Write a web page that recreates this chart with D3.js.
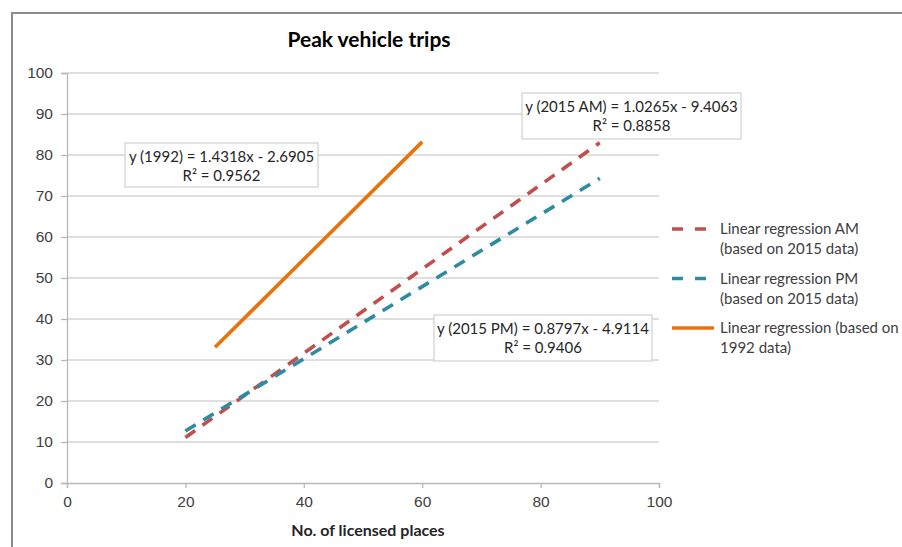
<!DOCTYPE html>
<html>
<head>
<meta charset="utf-8">
<script src="https://cdn.jsdelivr.net/npm/d3@7"></script>
<style>
  body { margin: 0; background: #fff; }
  svg { font-family: Lato, "Open Sans", sans-serif; }
</style>
</head>
<body>
<svg id="chart" width="902" height="547"></svg>
<script>
// regression line end points
const places = [20, 90];
const amTrips = [11.1, 83.0];
const pmTrips = [12.7, 74.3];
const places1992 = [25, 60];
const trips1992 = [33.1, 83.2];

const xTicks = [0, 20, 40, 60, 80, 100];
const yTicks = [0, 10, 20, 30, 40, 50, 60, 70, 80, 90, 100];

const seriesNames = ["Linear regression AM", "Linear regression PM", "Linear regression (based on"];
const seriesSub = ["(based on 2015 data)", "(based on 2015 data)", "1992 data)"];
const colors = ["#C0504D", "#2F8BA2", "#E8720C"];

const eqLabels = [
  ["y (1992) = 1.4318x - 2.6905", "R² = 0.9562"],
  ["y (2015 AM) = 1.0265x - 9.4063", "R² = 0.8858"],
  ["y (2015 PM) = 0.8797x - 4.9114", "R² = 0.9406"]
];

var svg = d3.select("#chart");

// outer chart border
svg.append("rect")
  .attr("x", 12).attr("y", 13)
  .attr("width", 920).attr("height", 560)
  .attr("fill", "none").attr("stroke", "#8c8c8c").attr("stroke-width", 2);

var x = d3.scaleLinear().domain([0, 100]).range([67, 659]);
var y = d3.scaleLinear().domain([0, 100]).range([483, 73]);

// gridlines
svg.append("g").selectAll("line")
  .data(yTicks.filter(d => d > 0))
  .enter().append("line")
  .attr("x1", x(0)).attr("x2", x(100))
  .attr("y1", d => y(d)).attr("y2", d => y(d))
  .attr("stroke", "#d4d4d4").attr("stroke-width", 1.3);

var yAxis = svg.append("g")
  .attr("transform", "translate(" + x(0) + ",0)")
  .call(d3.axisLeft(y).tickValues(yTicks).tickSize(6).tickPadding(8));
var xAxis = svg.append("g")
  .attr("transform", "translate(0," + y(0) + ")")
  .call(d3.axisBottom(x).tickValues(xTicks).tickSize(5).tickPadding(8));

[yAxis, xAxis].forEach(function(a){
  a.select(".domain").attr("stroke", "#b8b8b8").attr("stroke-width", 1.3);
  a.selectAll(".tick line").attr("stroke", "#b8b8b8").attr("stroke-width", 1.3);
  a.selectAll("text").attr("fill", "#404040").style("font-size", "15.5px");
});

// lines
var line = d3.line().x(d => x(d[0])).y(d => y(d[1]));
var lineData = [
  d3.zip(places, amTrips),
  d3.zip(places, pmTrips),
  d3.zip(places1992, trips1992)
];
var dashes = ["12,9", "12,9", null];

lineData.forEach(function(d, i){
  svg.append("path")
    .datum(d)
    .attr("d", line)
    .attr("fill", "none")
    .attr("stroke", colors[i])
    .attr("stroke-width", 3.6)
    .attr("stroke-dasharray", dashes[i]);
});

// equation boxes
var boxes = [
  {x: 125, y: 143, w: 193, h: 44},
  {x: 522, y: 93, w: 219, h: 46},
  {x: 434, y: 315, w: 218, h: 46}
];
boxes.forEach(function(b, i){
  var g = svg.append("g");
  g.append("rect")
    .attr("x", b.x).attr("y", b.y).attr("width", b.w).attr("height", b.h)
    .attr("fill", "#fff").attr("stroke", "#d0d0d0").attr("stroke-width", 1.2);
  g.selectAll("text").data(eqLabels[i]).enter().append("text")
    .attr("x", b.x + b.w / 2)
    .attr("y", (d, j) => b.y + 19 + j * 19)
    .attr("text-anchor", "middle")
    .attr("fill", "#262626")
    .style("font-size", "15px")
    .text(d => d);
});

// legend
var legend = svg.append("g");
seriesNames.forEach(function(name, i){
  var ly = 229 + i * 49.5;
  legend.append("line")
    .attr("x1", 672).attr("x2", 714)
    .attr("y1", ly).attr("y2", ly)
    .attr("stroke", colors[i]).attr("stroke-width", 3.6)
    .attr("stroke-dasharray", i < 2 ? "11,12" : null);
  legend.append("text")
    .attr("x", 720).attr("y", ly + 5)
    .attr("fill", "#404040").style("font-size", "15px")
    .text(name);
  legend.append("text")
    .attr("x", 720).attr("y", ly + 25)
    .attr("fill", "#404040").style("font-size", "15px")
    .text(seriesSub[i]);
});

// titles
svg.append("text")
  .attr("x", 369).attr("y", 47)
  .attr("text-anchor", "middle")
  .style("font-size", "21px").style("font-weight", "bold")
  .attr("fill", "#000")
  .text("Peak vehicle trips");

svg.append("text")
  .attr("x", 368).attr("y", 536)
  .attr("text-anchor", "middle")
  .style("font-size", "16px").style("font-weight", "bold")
  .attr("fill", "#262626")
  .text("No. of licensed places");
</script>
</body>
</html>
